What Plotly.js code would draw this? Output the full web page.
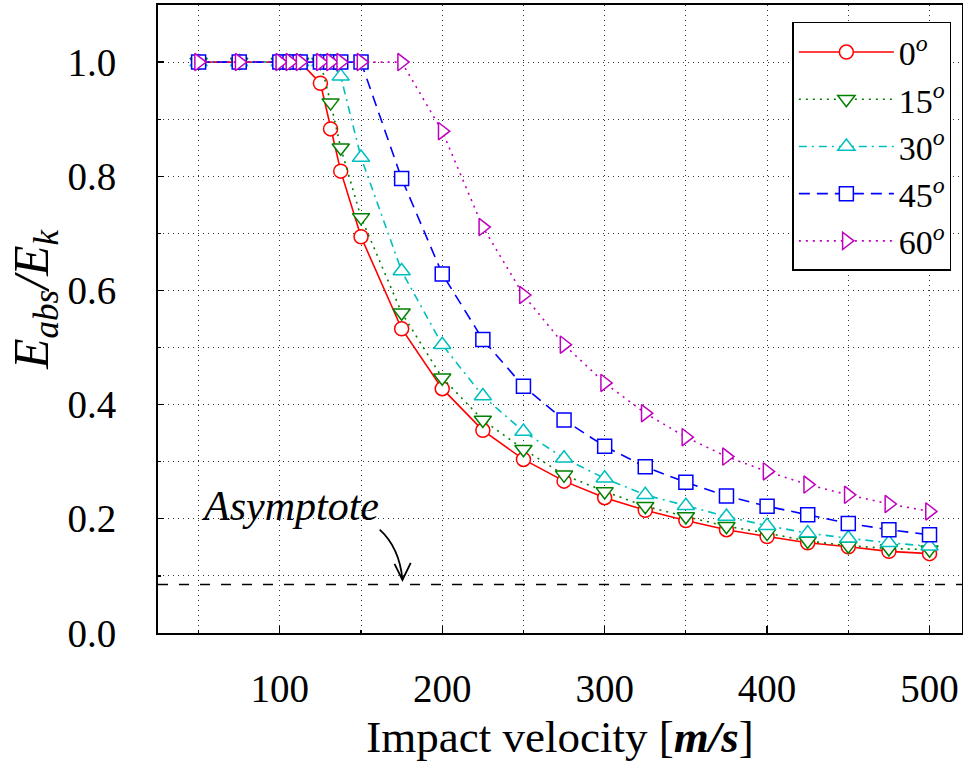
<!DOCTYPE html>
<html>
<head>
<meta charset="utf-8">
<script src="https://cdn.plot.ly/plotly-3.0.1.min.js"></script>
<style>
html,body{margin:0;padding:0;background:#fff;}
#chart{width:963px;height:763px;}
#chart svg text{font-family:'Liberation Serif' !important;}
</style>
</head>
<body>
<div id="chart"></div>
<script>
// Impact velocity [m/s]
const velocity = [50, 75, 100, 106.25, 112.5, 125, 131.25, 137.5, 150, 175, 200, 225, 250, 275, 300, 325, 350, 375, 400, 425, 450, 475, 500];
// E_abs / E_k for each impact angle
const angle0  = [1, 1, 1, 1, 1, 0.963, 0.883, 0.809, 0.694, 0.533, 0.428, 0.355, 0.304, 0.266, 0.237, 0.215, 0.197, 0.181, 0.169, 0.158, 0.151, 0.143, 0.139];
const angle15 = [1, 1, 1, 1, 1, 1, 0.929, 0.850, 0.728, 0.561, 0.447, 0.373, 0.322, 0.277, 0.248, 0.222, 0.204, 0.187, 0.175, 0.161, 0.153, 0.148, 0.146];
const angle30 = [1, 1, 1, 1, 1, 1, 1, 0.975, 0.833, 0.634, 0.505, 0.415, 0.353, 0.306, 0.271, 0.242, 0.223, 0.204, 0.188, 0.175, 0.166, 0.158, 0.152];
const angle45 = [1, 1, 1, 1, 1, 1, 1, 1, 1, 0.796, 0.629, 0.514, 0.432, 0.373, 0.327, 0.291, 0.264, 0.240, 0.222, 0.207, 0.192, 0.181, 0.172];
const angle60 = [1, 1, 1, 1, 1, 1, 1, 1, 1, 1, 0.879, 0.711, 0.592, 0.505, 0.438, 0.385, 0.343, 0.309, 0.283, 0.260, 0.242, 0.226, 0.213];
const seriesNames = ['0<sup><i>o</i></sup>', '15<sup><i>o</i></sup>', '30<sup><i>o</i></sup>', '45<sup><i>o</i></sup>', '60<sup><i>o</i></sup>'];
const asymptote = 0.085;
const asymptoteLabel = 'Asymptote';
const xTickVals = [100, 200, 300, 400, 500];
const yTickVals = [0, 0.2, 0.4, 0.6, 0.8, 1.0];

const serif = 'Liberation Serif';
const styles = [
  {color: '#ff0000', dash: 'solid', symbol: 'circle', size: 14},
  {color: '#008000', dash: '2px,5px', symbol: 'triangle-down', size: 15},
  {color: '#00bfbf', dash: '8px,5px,2px,5px', symbol: 'triangle-up', size: 15},
  {color: '#0000ff', dash: '11px,7px', symbol: 'square', size: 14},
  {color: '#bf00bf', dash: '2px,5px', symbol: 'triangle-right', size: 15}
];
const seriesData = [angle0, angle15, angle30, angle45, angle60];

const traces = seriesData.map((ys, i) => ({
  type: 'scatter',
  mode: 'lines+markers',
  x: velocity,
  y: ys,
  name: seriesNames[i],
  line: {color: styles[i].color, width: 1.6, dash: styles[i].dash},
  marker: {symbol: styles[i].symbol, size: styles[i].size, color: '#ffffff',
           line: {color: styles[i].color, width: 1.5}}
}));

const gridDash = '1px,4px';
const layout = {
  width: 963, height: 763,
  margin: {l: 158, r: 1, t: 5, b: 130},
  paper_bgcolor: '#ffffff', plot_bgcolor: '#ffffff',
  showlegend: true,
  font: {family: serif, color: '#000'},
  xaxis: {
    range: [25, 520],
    tickvals: xTickVals,
    ticks: 'inside', ticklen: 7, tickwidth: 1.2, tickcolor: '#000',
    showline: true, mirror: true, linecolor: '#000', linewidth: 2,
    showgrid: true, gridcolor: '#333', griddash: gridDash, gridwidth: 1,
    minor: {dtick: 50, showgrid: true, gridcolor: '#333', griddash: gridDash, gridwidth: 1, ticks: 'inside', ticklen: 3, tickcolor: '#000'},
    zeroline: false,
    tickfont: {family: serif, size: 39, color: '#000'},
    ticklabelstandoff: 20,
    title: {text: 'Impact velocity [<b><i>m/s</i></b>]', font: {family: serif, size: 45, color: '#000'}, standoff: 12}
  },
  yaxis: {
    range: [0, 1.1],
    tickvals: yTickVals,
    tickformat: '.1f',
    ticks: 'inside', ticklen: 6, tickwidth: 1.2, tickcolor: '#000',
    showline: true, mirror: true, linecolor: '#000', linewidth: 2,
    showgrid: true, gridcolor: '#333', griddash: gridDash, gridwidth: 1,
    minor: {dtick: 0.1, showgrid: true, gridcolor: '#333', griddash: gridDash, gridwidth: 1, ticks: 'inside', ticklen: 3, tickcolor: '#000'},
    zeroline: false,
    tickfont: {family: serif, size: 39, color: '#000'},
    ticklabelstandoff: 32
  },
  legend: {
    x: 0.789, y: 0.973, xanchor: 'left', yanchor: 'top',
    bgcolor: '#ffffff', bordercolor: '#000', borderwidth: 1.5,
    font: {family: serif, size: 34, color: '#000'},
    itemwidth: 95
  },
  shapes: [
    {type: 'line', xref: 'paper', x0: 0, x1: 1, yref: 'y', y0: asymptote, y1: asymptote,
     line: {color: '#000', width: 1.5, dash: '10px,11px'}},
    {type: 'path', xref: 'x', yref: 'y', path: 'M 161.5 0.181 Q 173.5 0.150 175.5 0.094',
     line: {color: '#000', width: 1.8}},
    {type: 'path', xref: 'x', yref: 'y', path: 'M 170.6 0.121 L 175.5 0.093 L 180.6 0.123',
     line: {color: '#000', width: 1.8}}
  ],
  annotations: [
    {xref: 'x', yref: 'y', x: 50.5, y: 0.222, xanchor: 'left', yanchor: 'middle', showarrow: false,
     text: '<i>' + asymptoteLabel + '</i>', font: {family: serif, size: 42, color: '#000'}},
    {xref: 'paper', yref: 'y', x: -0.153, y: 0.585, xanchor: 'center', yanchor: 'middle', showarrow: false,
     textangle: -90, text: '<i>E</i><sub><i>abs</i></sub><i>/E</i><sub><i>k</i></sub>',
     font: {family: serif, size: 50, color: '#000'}}
  ]
};

Plotly.newPlot('chart', traces, layout, {displayModeBar: false, staticPlot: true});
</script>
</body>
</html>
